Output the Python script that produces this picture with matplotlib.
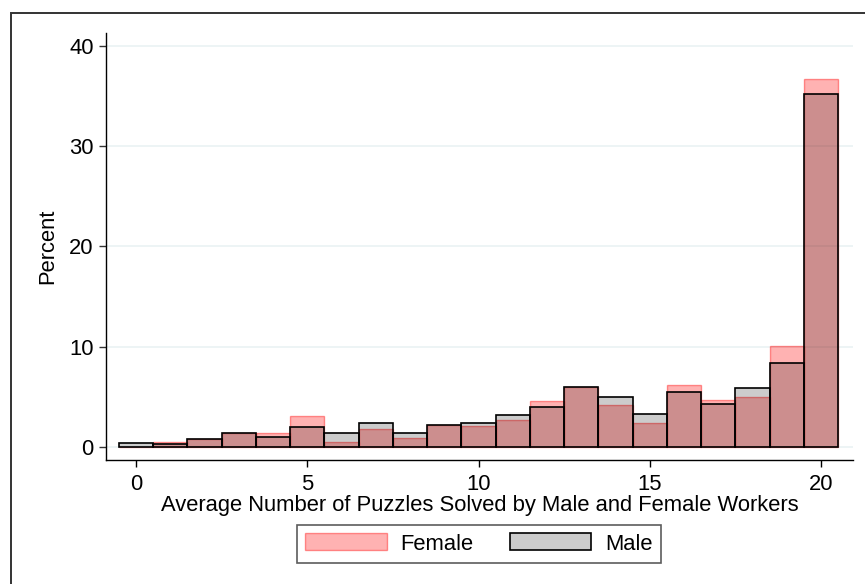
import matplotlib
matplotlib.use("Agg")
import matplotlib.pyplot as plt
from matplotlib.patches import Rectangle, Patch

plt.rcParams['font.family'] = ['Liberation Sans', 'DejaVu Sans']

# Histogram bins (average puzzles solved) and percent of workers per bin
bins = list(range(21))
female_pct = [0.0, 0.5, 0.8, 1.4, 1.4, 3.1, 0.5, 1.8, 0.9, 2.2, 2.1,
              2.7, 4.6, 6.0, 4.2, 2.4, 6.2, 4.7, 5.0, 10.1, 36.7]
male_pct = [0.4, 0.3, 0.8, 1.4, 1.0, 2.0, 1.4, 2.4, 1.4, 2.2, 2.4,
            3.2, 4.0, 6.0, 5.0, 3.3, 5.5, 4.3, 5.9, 8.4, 35.2]
x_ticks = [0, 5, 10, 15, 20]
y_ticks = [0, 10, 20, 30, 40]

W, H = 865, 584
FS = 15.8
fig = plt.figure(figsize=(W / 100, H / 100), dpi=100)
fig.patch.set_facecolor("white")

# outer graph frame (extends past the right and bottom edges)
fig.patches.append(Rectangle((10.5 / W, -0.1), 1.0, 1 - 13.5 / H + 0.1,
                             transform=fig.transFigure, fill=False,
                             edgecolor="#333333", linewidth=1.4))

ax = fig.add_axes([106 / W, 1 - 460 / H, (853 - 106) / W, (460 - 33) / H])

female_fill = (1.0, 0.0, 0.0, 0.30)
female_edge = (1.0, 0.0, 0.0, 0.40)
male_fill = (0.0, 0.0, 0.0, 0.20)
male_edge = (0.0, 0.0, 0.0, 1.0)

ax.bar(bins, female_pct, width=1.0, color=female_fill, edgecolor=female_edge,
       linewidth=1.0, zorder=2)
ax.bar(bins, male_pct, width=1.0, color=male_fill, edgecolor=male_edge,
       linewidth=1.2, zorder=3)

ax.set_xlim(-0.876, 20.93)
ax.set_ylim(-1.33, 41.3)

ax.set_xticks(x_ticks)
ax.set_yticks(y_ticks)
ax.yaxis.grid(True, color="#EAF2F3", linewidth=1.2, zorder=0)
ax.set_axisbelow(True)

for s in ("top", "right"):
    ax.spines[s].set_visible(False)
ax.spines["left"].set_color("#000000")
ax.spines["bottom"].set_color("#000000")
ax.spines["left"].set_linewidth(1.0)
ax.spines["bottom"].set_linewidth(1.0)

ax.tick_params(axis="both", colors="#000000", labelsize=FS, length=5,
               width=1.0, pad=4)
ax.tick_params(axis="x", pad=5)
ax.tick_params(axis="y", colors="#333333", labelcolor="#000000")

ax.set_ylabel("Percent", fontsize=FS, labelpad=8)
ax.set_xlabel("Average Number of Puzzles Solved by Male and Female Workers",
              fontsize=FS, labelpad=0)

handles = [Patch(facecolor=female_fill, edgecolor=female_edge, linewidth=1.0),
           Patch(facecolor=male_fill, edgecolor=male_edge, linewidth=1.2)]
leg = fig.legend(handles, ["Female", "Male"], loc="center",
                 bbox_to_anchor=(479 / W, 1 - 544 / H), ncol=2,
                 fontsize=FS, frameon=True, fancybox=False,
                 handlelength=3.7, handleheight=0.82, handletextpad=0.64,
                 columnspacing=1.64, borderpad=0.4)
leg.get_frame().set_edgecolor("#333333")
leg.get_frame().set_linewidth(1.2)

fig.savefig("out.png", dpi=100)
